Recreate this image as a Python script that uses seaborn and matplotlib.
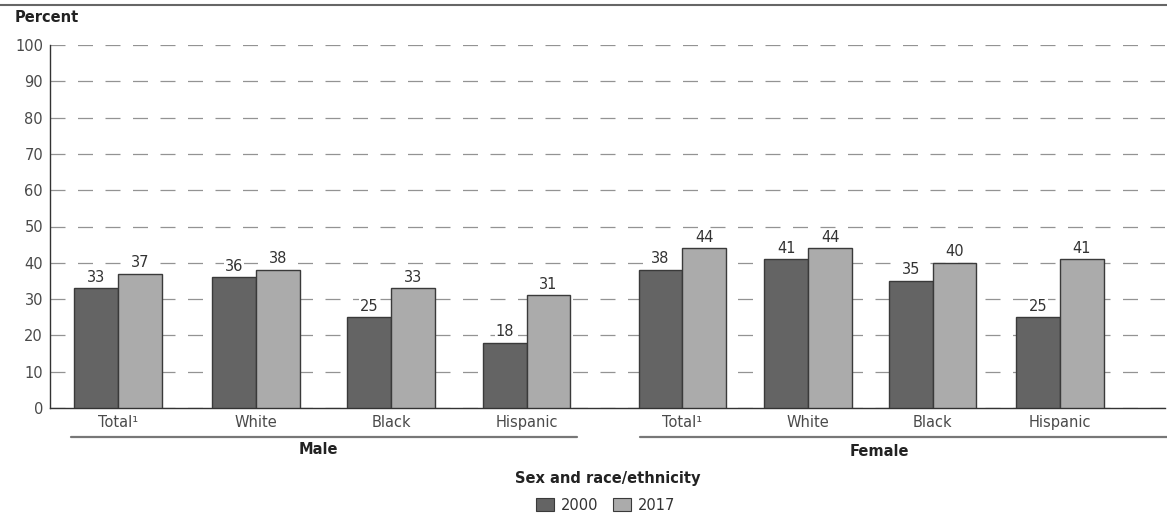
import matplotlib
matplotlib.use("Agg")
import matplotlib.pyplot as plt
from matplotlib.lines import Line2D
from matplotlib.patches import Patch
from matplotlib.transforms import blended_transform_factory
import seaborn as sns
import pandas as pd

# Data
sexes = ["Male"] * 4 + ["Female"] * 4
groups = ["Total¹", "White", "Black", "Hispanic"] * 2
years = ["2000", "2017"]
values_2000 = [33, 36, 25, 18, 38, 41, 35, 25]
values_2017 = [37, 38, 33, 31, 44, 44, 40, 41]

# Layout: x centre of each category pair
positions = [0, 1.01, 2.0, 2.99, 4.13, 5.05, 5.96, 6.89]

rows = []
for i in range(len(groups)):
    rows.append({"pos": positions[i], "year": years[0], "value": values_2000[i]})
    rows.append({"pos": positions[i], "year": years[1], "value": values_2017[i]})
df = pd.DataFrame(rows)

sns.set_theme(style="white")
plt.rcParams["font.family"] = ["DejaVu Sans"]

FS = 10.5
W, H = 1167, 521
fig = plt.figure(figsize=(W / 100, H / 100), dpi=100)
ax = fig.add_axes([50 / W, (H - 408) / H, (1165 - 50) / W, (408 - 45) / H])

palette = {"2000": "#646464", "2017": "#ababab"}
sns.barplot(data=df, x="pos", y="value", hue="year", hue_order=years,
            native_scale=True, width=0.705, palette=palette,
            edgecolor="#3a3a3a", linewidth=1.0, saturation=1, ax=ax,
            legend=False, zorder=3)

ax.set_xlim(-0.497, 7.66)
ax.set_ylim(0, 100)
ax.set_yticks(range(0, 101, 10))
ax.set_xticks(positions)
ax.set_xticklabels(groups)
ax.set_xlabel("")
ax.set_ylabel("")

ax.yaxis.grid(True, linestyle=(0, (12, 10)), color="#939393", linewidth=0.9, zorder=0)
ax.xaxis.grid(False)
ax.set_axisbelow(True)

for side in ["top", "right"]:
    ax.spines[side].set_visible(False)
for side in ["left", "bottom"]:
    ax.spines[side].set_color("#333333")
    ax.spines[side].set_linewidth(1.0)

ax.tick_params(axis="y", length=0, pad=5, labelsize=FS, labelcolor="#4a4a4a")
ax.tick_params(axis="x", length=0, pad=5, labelsize=FS, labelcolor="#4a4a4a")

# Value labels above each bar
half = 0.705 * 0.91 / 4
for i, p in enumerate(positions):
    for off, v in ((-half, values_2000[i]), (half, values_2017[i])):
        ax.text(p + off, v + 1.0, str(v), ha="center", va="bottom",
                fontsize=FS, color="#333333", zorder=4,
                bbox=dict(facecolor="white", edgecolor="none", pad=0.6))

# Sex group brackets and names
tr = blended_transform_factory(ax.transData, fig.transFigure)
y_line = (H - 437) / H
for x0, x1 in ((-0.344, 3.358), (3.82, 7.7)):
    fig.add_artist(Line2D([x0, x1], [y_line, y_line], transform=tr,
                          color="#777777", linewidth=1.6, clip_on=False))
fig.text(1.463, (H - 450) / H, "Male", transform=tr, ha="center", va="center",
         fontsize=FS, fontweight="bold", color="#222222")
fig.text(5.574, (H - 451) / H, "Female", transform=tr, ha="center", va="center",
         fontsize=FS, fontweight="bold", color="#222222")

fig.text(608 / W, (H - 478) / H, "Sex and race/ethnicity", ha="center", va="center",
         fontsize=FS, fontweight="bold", color="#222222")

handles = [Patch(facecolor=palette[y], edgecolor="#3a3a3a", linewidth=0.8) for y in years]
fig.legend(handles, years, loc="center", bbox_to_anchor=(606 / W, (H - 505) / H),
           ncol=2, frameon=False, fontsize=FS, handlelength=1.2, handleheight=1.0,
           handletextpad=0.5, columnspacing=1.0, labelcolor="#333333")

fig.text(15 / W, (H - 18) / H, "Percent", ha="left", va="center",
         fontsize=FS, fontweight="bold", color="#222222")

fig.add_artist(Line2D([0, 1], [(H - 4.5) / H] * 2, transform=fig.transFigure,
                      color="#666666", linewidth=1.5))

fig.savefig("out.png", dpi=100, facecolor="white")
